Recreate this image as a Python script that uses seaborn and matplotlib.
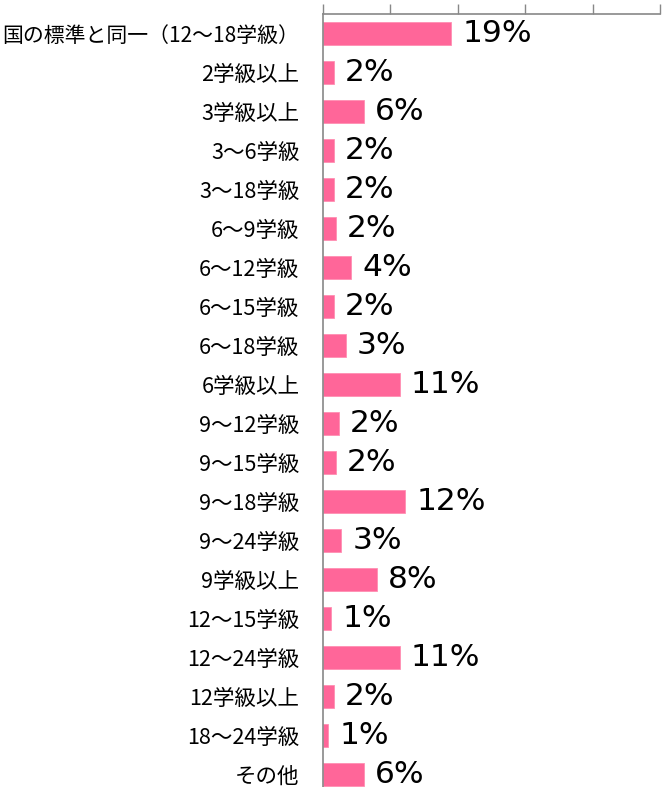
import numpy as np
import pandas as pd
import matplotlib
matplotlib.use('Agg')
import matplotlib.pyplot as plt
import seaborn as sns

# 学級数の条件ごとの割合(%)
categories = ['国の標準と同一（12～18学級）', '2学級以上', '3学級以上', '3～6学級', '3～18学級',
              '6～9学級', '6～12学級', '6～15学級', '6～18学級', '6学級以上',
              '9～12学級', '9～15学級', '9～18学級', '9～24学級', '9学級以上',
              '12～15学級', '12～24学級', '12学級以上', '18～24学級', 'その他']
values = [19.0, 1.6, 6.1, 1.6, 1.6,
          1.9, 4.2, 1.6, 3.4, 11.4,
          2.3, 1.9, 12.2, 2.7, 8.0,
          1.2, 11.4, 1.6, 0.8, 6.1]

df = pd.DataFrame({'cat': categories, 'val': values})

sns.set_style('white')
plt.rcParams['font.family'] = ['Noto Sans CJK JP', 'DejaVu Sans']

fig = plt.figure(figsize=(6.64, 7.87), dpi=100)
ax = fig.add_axes([323 / 664, -7 / 787, (660 - 323) / 664, (787 - 14 + 7) / 787])

sns.barplot(data=df, x='val', y='cat', orient='h', color='#FF6699',
            saturation=1, width=0.59, edgecolor='#FF8FB3', linewidth=0.6, ax=ax)

# 値ラベル
for i, v in enumerate(values):
    ax.annotate(f'{round(v)}%', xy=(v, i), xytext=(8, 0), textcoords='offset points',
                va='center', ha='left', fontsize=22.5, color='black',
                family=['DejaVu Sans'])

ax.set_xlim(0, 50)
ax.set_ylim(len(categories) - 0.5, -0.5)
ax.set_xlabel('')
ax.set_ylabel('')

# 軸
for s in ['right', 'bottom']:
    ax.spines[s].set_visible(False)
for s in ['top', 'left']:
    ax.spines[s].set_color('#888888')
    ax.spines[s].set_linewidth(1.2)

ax.xaxis.tick_top()
ax.set_xticks(np.arange(0, 51, 10))
ax.set_xticklabels([])
ax.tick_params(axis='x', which='major', length=7, width=1, color='#888888', direction='out')

ax.set_yticks(np.arange(len(categories)))
ax.set_yticklabels(categories, fontsize=15.5, color='black')
ax.tick_params(axis='y', which='major', length=0, pad=17)
ax.get_yticklabels()[0].set_fontsize(15)
ax.set_yticks(np.arange(len(categories)) + 0.5, minor=True)
ax.tick_params(axis='y', which='minor', length=5, width=1, color='#888888', direction='out')

fig.savefig('out.png', dpi=100)
